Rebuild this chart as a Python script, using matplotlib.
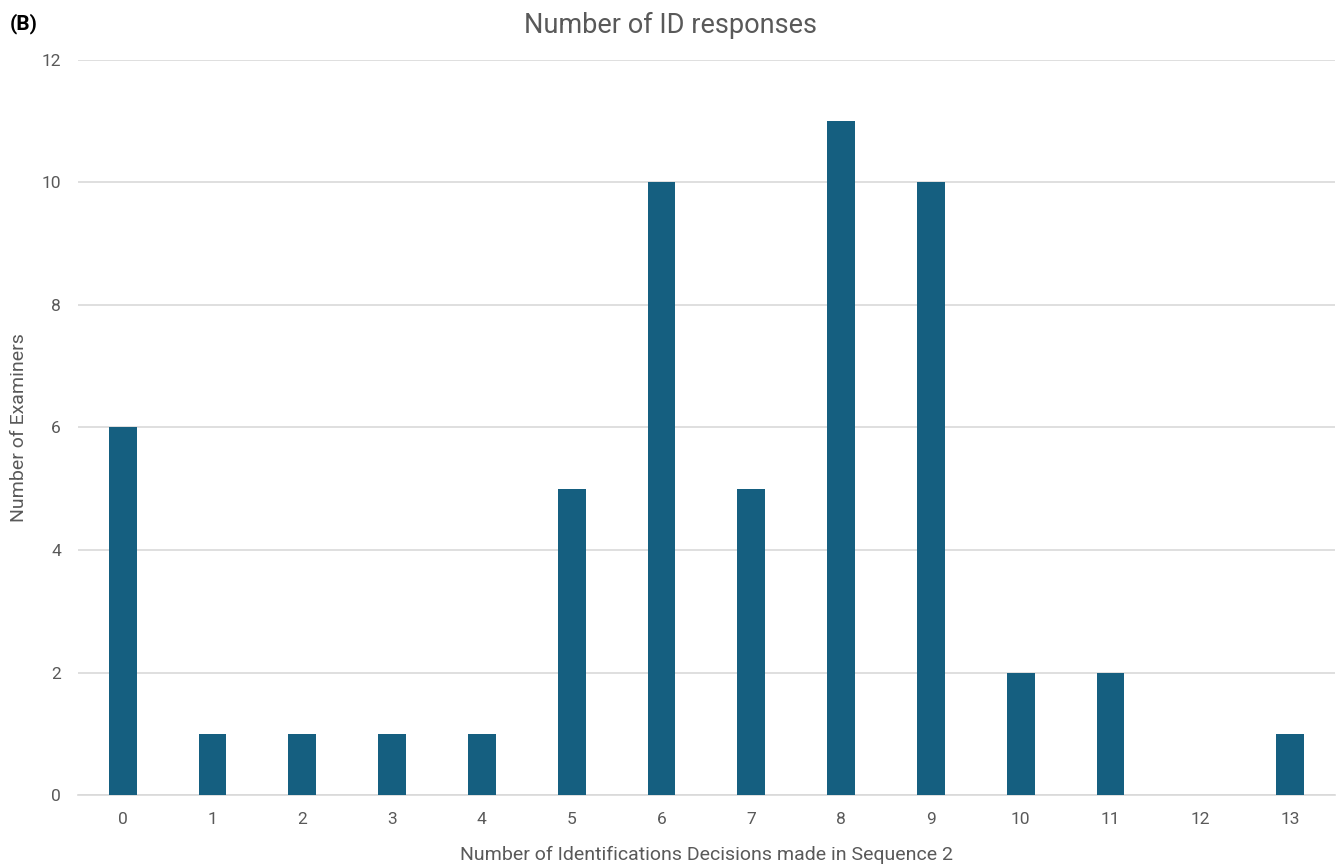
import matplotlib
matplotlib.use('Agg')
from matplotlib import pyplot as plt
import numpy as np

plt.rcParams['font.family'] = ['Roboto', 'DejaVu Sans']

categories = [str(i) for i in range(14)]
examiners = [6, 1, 1, 1, 1, 5, 10, 5, 11, 10, 2, 2, 0, 1]

fig = plt.figure(figsize=(13.41, 8.67), dpi=100)
ax = fig.add_axes([0.058, 0.083, 0.9375, 0.848])

x = np.arange(len(categories))
ax.bar(x, examiners, width=0.31, color='#155f80', zorder=3)

ax.set_xlim(-0.5, len(categories) - 0.5)
ax.set_ylim(0, 12)
ax.set_yticks(np.arange(0, 13, 2))
ax.set_xticks(x)
ax.set_xticklabels(categories)
ax.yaxis.grid(True, color='#d9d9d9', linewidth=1.2, zorder=0)
for s in ['top', 'right', 'left']:
    ax.spines[s].set_visible(False)
ax.spines['bottom'].set_color('#d9d9d9')
ax.spines['bottom'].set_linewidth(1.2)
ax.tick_params(length=0, labelsize=12.5, colors='#595959', pad=12)

# title is centred on the whole figure, not on the axes
fig.text(0.5, 0.971, 'Number of ID responses', fontsize=19.5, color='#595959',
         ha='center', va='center')
ax.set_xlabel('Number of Identifications Decisions made in Sequence 2', fontsize=14,
              color='#595959', labelpad=14)
ax.set_ylabel('Number of Examiners', fontsize=14, color='#595959', labelpad=10)

fig.text(0.007, 0.973, '(B)', fontsize=15, fontweight='bold', color='black', va='center')

fig.savefig('out.png', dpi=100)
